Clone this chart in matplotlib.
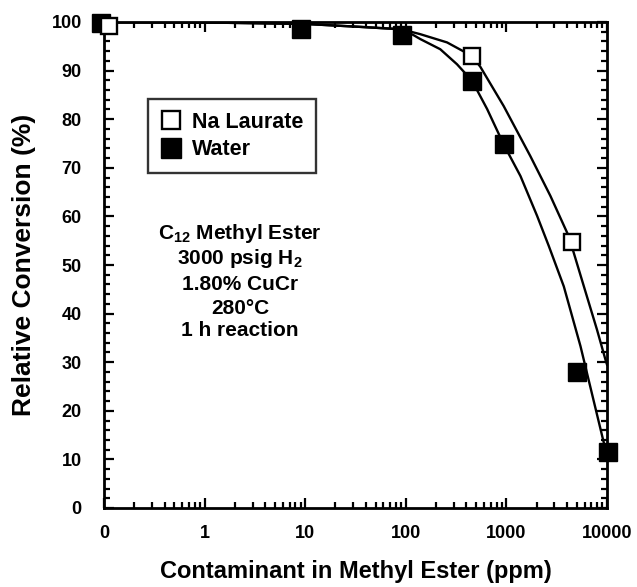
import matplotlib
matplotlib.use("Agg")
import matplotlib.pyplot as plt
from matplotlib.ticker import FixedLocator, MultipleLocator, LogLocator, NullFormatter, FixedFormatter

plt.rcParams['font.family'] = ['Liberation Sans', 'DejaVu Sans']
plt.rcParams['font.weight'] = 'bold'
plt.rcParams['mathtext.fontset'] = 'custom'
plt.rcParams['mathtext.rm'] = 'Liberation Sans:bold'
plt.rcParams['mathtext.bf'] = 'Liberation Sans:bold'
plt.rcParams['mathtext.default'] = 'rm'

# Data; "0 ppm" is drawn at 0.1 on the log axis
laurate_x = [0.111, 456, 4440]
laurate_y = [99.1, 93.0, 54.8]
water_x = [0.093, 9.1, 92, 456, 940, 5050, 10200]
water_y = [99.8, 98.6, 97.3, 87.9, 74.8, 27.9, 11.5]

# Fitted curves
laurate_curve_x = [0.1, 1, 10, 35, 75, 117, 139, 257, 456, 550, 940, 1730, 2740, 4170, 5890, 7950, 9660, 10000]
laurate_curve_y = [100, 99.9, 99.6, 99.0, 98.6, 97.9, 97.5, 95.8, 93.0, 90.8, 82.7, 72.4, 64.2, 55.9, 45.6, 36.7, 30.5, 29.5]
water_curve_x = [0.1, 1, 10, 35, 75, 117, 139, 220, 323, 456, 643, 940, 1380, 2020, 2640, 3720, 5450, 9660, 10000]
water_curve_y = [100, 99.9, 99.6, 99.0, 98.6, 97.4, 96.5, 94.4, 91.3, 87.9, 82.1, 74.8, 68.3, 60.1, 53.9, 45.6, 33.3, 12.0, 11.2]

x_ticks = [0.1, 1, 10, 100, 1000, 10000]
x_ticklabels = ['0', '1', '10', '100', '1000', '10000']
y_ticks = [0, 10, 20, 30, 40, 50, 60, 70, 80, 90, 100]
annotation_lines = ['C$_{12}$ Methyl Ester', '3000 psig H$_2$', '1.80% CuCr', '280°C', '1 h reaction']

fig = plt.figure(figsize=(6.37, 5.87), dpi=100)
ax = fig.add_axes([104/637, 1-508/587, (607-104)/637, (508-22)/587])

ax.plot(laurate_curve_x, laurate_curve_y, color='black', lw=1.7, zorder=2, solid_joinstyle='round')
ax.plot(water_curve_x, water_curve_y, color='black', lw=1.7, zorder=2, solid_joinstyle='round')

ax.plot(laurate_x, laurate_y, ls='none', marker='s', ms=12, mfc='white', mec='black', mew=1.7,
        clip_on=False, zorder=4, label='Na Laurate')
ax.plot(water_x, water_y, ls='none', marker='s', ms=13.5, mfc='black', mec='black', mew=1.0,
        clip_on=False, zorder=3, label='Water')

ax.set_xscale('log')
ax.set_xlim(0.1, 10000)
ax.set_ylim(0, 100)

ax.xaxis.set_major_locator(FixedLocator(x_ticks))
ax.xaxis.set_major_formatter(FixedFormatter(x_ticklabels))
ax.xaxis.set_minor_locator(LogLocator(base=10, subs=[2, 3, 4, 5, 6, 7, 8, 9]))
ax.xaxis.set_minor_formatter(NullFormatter())
ax.yaxis.set_major_locator(FixedLocator(y_ticks))
ax.yaxis.set_minor_locator(MultipleLocator(2))

ax.tick_params(which='both', direction='in', top=True, right=True, width=1.6, labelsize=13, colors='black')
ax.tick_params(which='major', length=7)
ax.tick_params(which='minor', length=4)
ax.tick_params(axis='x', which='major', pad=12)
ax.tick_params(axis='y', which='major', pad=16)
for lab in ax.get_xticklabels() + ax.get_yticklabels():
    lab.set_fontweight('bold')
for sp in ax.spines.values():
    sp.set_linewidth(2)
    sp.set_color('black')

ax.set_ylabel('Relative Conversion (%)', fontsize=19, fontweight='bold', labelpad=11)
ax.set_xlabel('Contaminant in Methyl Ester (ppm)', fontsize=17, fontweight='bold', labelpad=13)

leg = ax.legend(loc='upper left', bbox_to_anchor=(44/503, 1-77/486), frameon=True, fancybox=False,
                edgecolor='black', fontsize=15.5, handlelength=0.9, handletextpad=0.55,
                borderpad=0.6, labelspacing=0.3, markerscale=1.05, borderaxespad=0)
leg.get_frame().set_linewidth(1.7)
for t in leg.get_texts():
    t.set_fontweight('bold')

ys = [233, 258, 285, 309, 331]
for line, yp in zip(annotation_lines, ys):
    ax.text((240-104)/503, 1-(yp-22)/486, line, transform=ax.transAxes, ha='center', va='center',
            fontsize=15, fontweight='bold')

fig.savefig('out.png', dpi=100)
